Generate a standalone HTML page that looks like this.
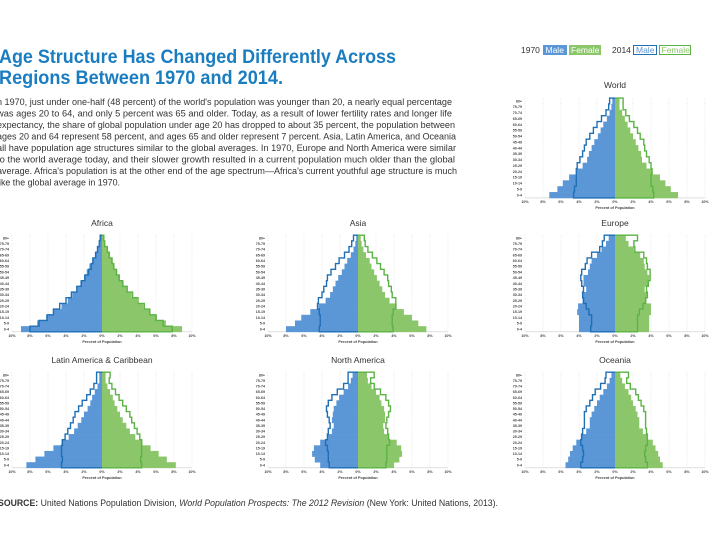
<!DOCTYPE html>
<html><head><meta charset="utf-8"><style>
html,body{margin:0;padding:0;background:#fff;width:720px;height:540px;overflow:hidden}
svg{display:block;font-family:"Liberation Sans",sans-serif}
</style></head><body>
<svg id="s" width="720" height="540" viewBox="0 0 720 540">
<g fill="#1a7dc0" font-weight="bold" font-size="19">
<text x="-1" y="63" textLength="397" lengthAdjust="spacingAndGlyphs">Age Structure Has Changed Differently Across</text>
<text x="-1" y="84" textLength="284" lengthAdjust="spacingAndGlyphs">Regions Between 1970 and 2014.</text>
</g>
<g fill="#333" font-size="9.6">
<text x="-3" y="105" textLength="455" lengthAdjust="spacingAndGlyphs">n 1970, just under one-half (48 percent) of the world's population was younger than 20, a nearly equal percentage</text>
<text x="-3" y="116.5" textLength="455" lengthAdjust="spacingAndGlyphs">was ages 20 to 64, and only 5 percent was 65 and older. Today, as a result of lower fertility rates and longer life</text>
<text x="-3" y="128" textLength="458" lengthAdjust="spacingAndGlyphs">expectancy, the share of global population under age 20 has dropped to about 35 percent, the population between</text>
<text x="-3" y="139.5" textLength="459" lengthAdjust="spacingAndGlyphs">ages 20 and 64 represent 58 percent, and ages 65 and older represent 7 percent. Asia, Latin America, and Oceania</text>
<text x="-3" y="151" textLength="459" lengthAdjust="spacingAndGlyphs">all have population age structures similar to the global averages. In 1970, Europe and North America were similar</text>
<text x="-3" y="162.5" textLength="458" lengthAdjust="spacingAndGlyphs">to the world average today, and their slower growth resulted in a current population much older than the global</text>
<text x="-3" y="174" textLength="460" lengthAdjust="spacingAndGlyphs">average. Africa's population is at the other end of the age spectrum—Africa's current youthful age structure is much</text>
<text x="-3" y="185.5" textLength="123" lengthAdjust="spacingAndGlyphs">like the global average in 1970.</text>
</g>
<g font-size="8.5">
<text x="521" y="53" fill="#333">1970</text>
<rect x="543" y="45" width="24" height="10" fill="#5b97d6"/><text x="545.5" y="53" fill="#fff">Male</text>
<rect x="569" y="45" width="32" height="10" fill="#8cc66a"/><text x="571" y="53" fill="#fff">Female</text>
<text x="612" y="53" fill="#333">2014</text>
<rect x="633.5" y="45.5" width="23" height="9" fill="none" stroke="#1f6fb5"/><text x="636" y="53" fill="#5b97d6">Male</text>
<rect x="659.5" y="45.5" width="31" height="9" fill="none" stroke="#5cb345"/><text x="661.5" y="53" fill="#8cc66a">Female</text>
</g>
<text x="-2" y="506" font-size="9.6" fill="#333" textLength="500" lengthAdjust="spacingAndGlyphs"><tspan font-weight="bold">SOURCE:</tspan> United Nations Population Division, <tspan font-style="italic">World Population Prospects: The 2012 Revision</tspan> (New York: United Nations, 2013).</text>
<g id="charts"></g>
</svg>
<script>
const ageGroups=["0-4","5-9","10-14","15-19","20-24","25-29","30-34","35-39","40-44","45-49","50-54","55-59","60-64","65-69","70-74","75-79","80+"];
const tickLabels=["10%","8%","6%","4%","2%","0%","2%","4%","6%","8%","10%"];
const regions=["World","Africa","Asia","Europe","Latin America & Caribbean","North America","Oceania"];
const male1970={
World:[7.3,6.4,5.8,5.1,4.3,3.6,3.1,2.9,2.6,2.3,1.9,1.6,1.3,0.9,0.6,0.4,0.3],
Africa:[9.0,7.2,6.2,5.4,4.5,3.8,3.3,2.8,2.4,2.0,1.7,1.4,1.1,0.8,0.5,0.3,0.2],
Asia:[8.0,7.0,6.3,5.3,4.4,3.6,3.1,2.8,2.5,2.2,1.8,1.5,1.2,0.8,0.5,0.3,0.2],
Europe:[4.0,4.0,4.0,4.2,4.1,3.6,3.6,3.2,3.5,3.5,3.0,2.8,2.6,2.0,1.5,1.0,0.7],
"Latin America & Caribbean":[8.4,7.4,6.4,5.4,4.5,3.7,3.1,2.7,2.3,2.0,1.6,1.3,1.1,0.8,0.5,0.3,0.3],
"North America":[4.2,4.8,5.1,4.9,4.2,3.4,2.9,2.7,2.9,2.8,2.7,2.4,2.1,1.6,1.1,0.8,0.6],
Oceania:[5.5,5.2,5.0,4.7,4.3,3.8,3.2,2.8,2.8,2.6,2.3,2.0,1.7,1.3,0.9,0.6,0.4]};
const female1970={
World:[7.0,6.2,5.6,5.0,4.2,3.5,3.0,2.9,2.6,2.3,2.0,1.7,1.4,1.1,0.8,0.5,0.5],
Africa:[8.9,7.1,6.1,5.4,4.6,3.9,3.3,2.8,2.4,2.0,1.7,1.4,1.2,0.9,0.6,0.3,0.2],
Asia:[7.6,6.7,6.0,5.1,4.3,3.5,3.0,2.7,2.4,2.1,1.8,1.5,1.3,0.9,0.6,0.4,0.3],
Europe:[3.8,3.8,3.8,4.0,4.0,3.5,3.6,3.3,3.7,3.8,3.6,3.3,3.2,2.8,2.1,1.5,1.2],
"Latin America & Caribbean":[8.2,7.2,6.3,5.4,4.5,3.7,3.1,2.7,2.3,2.0,1.7,1.4,1.2,0.9,0.6,0.4,0.4],
"North America":[4.0,4.6,4.9,4.8,4.3,3.4,2.9,2.8,3.0,3.0,2.9,2.6,2.4,2.0,1.5,1.1,1.0],
Oceania:[5.3,5.0,4.8,4.5,4.2,3.6,3.1,2.7,2.7,2.5,2.3,2.0,1.8,1.5,1.1,0.8,0.6]};
const male2014={
World:[4.6,4.5,4.3,4.3,4.3,4.2,3.9,3.6,3.4,3.2,2.8,2.4,2.0,1.5,1.0,0.7,0.6],
Africa:[8.0,7.0,6.1,5.4,4.7,4.0,3.4,2.8,2.3,1.9,1.5,1.2,1.0,0.7,0.5,0.3,0.2],
Asia:[4.3,4.2,4.2,4.3,4.5,4.4,4.0,3.8,3.5,3.4,3.0,2.5,2.1,1.5,1.0,0.7,0.5],
Europe:[2.7,2.6,2.6,2.9,3.2,3.5,3.6,3.5,3.7,3.8,3.7,3.3,3.1,2.6,1.7,1.4,1.2],
"Latin America & Caribbean":[4.5,4.4,4.5,4.5,4.4,4.1,3.8,3.5,3.2,3.0,2.6,2.2,1.7,1.3,0.9,0.6,0.6],
"North America":[3.2,3.3,3.3,3.4,3.6,3.4,3.3,3.1,3.2,3.4,3.5,3.3,2.9,2.3,1.6,1.1,1.1],
Oceania:[3.8,3.6,3.5,3.6,3.8,3.7,3.6,3.4,3.4,3.4,3.2,2.8,2.5,2.2,1.6,1.1,1.0]};
const female2014={
World:[4.3,4.2,4.0,4.0,4.1,4.0,3.8,3.5,3.3,3.2,2.8,2.5,2.1,1.6,1.2,0.9,0.9],
Africa:[7.8,6.8,6.0,5.3,4.7,4.0,3.4,2.8,2.3,1.9,1.6,1.3,1.1,0.8,0.6,0.3,0.2],
Asia:[3.9,3.8,3.8,3.9,4.2,4.2,3.8,3.7,3.4,3.3,2.9,2.5,2.1,1.6,1.1,0.8,0.7],
Europe:[2.5,2.5,2.5,2.7,3.1,3.4,3.6,3.5,3.7,3.9,3.9,3.6,3.5,3.2,2.2,2.1,2.5],
"Latin America & Caribbean":[4.4,4.3,4.4,4.4,4.4,4.2,3.9,3.6,3.3,3.1,2.7,2.3,1.9,1.5,1.1,0.8,0.9],
"North America":[3.1,3.2,3.2,3.2,3.5,3.4,3.3,3.1,3.2,3.4,3.6,3.4,3.1,2.5,1.8,1.4,1.8],
Oceania:[3.6,3.4,3.3,3.4,3.6,3.6,3.5,3.4,3.4,3.4,3.2,2.9,2.6,2.3,1.7,1.3,1.5]};
const NS="http://www.w3.org/2000/svg";
const root=document.getElementById("charts");
function mk(tag,attrs,parent){const e=document.createElementNS(NS,tag);for(const k in attrs)e.setAttribute(k,attrs[k]);parent.appendChild(e);return e;}
const layout={World:[615,101,195,88],Africa:[102,238,329,226],Asia:[358,238,329,226],Europe:[615,238,329,226],
"Latin America & Caribbean":[102,375,465,363],"North America":[358,375,465,363],Oceania:[615,375,465,363]};
const K=9;
function xM(cx,v){return cx-v*K;}
function xF(cx,v){return cx+v*K;}
function rowY(top,bot,i){return bot-i*(bot-top)/(ageGroups.length-1);}
function outline(cx,top,bot,vals,fx){
  const h=(bot-top)/(ageGroups.length-1);
  let d="M"+cx+","+(bot+h/2);
  vals.forEach((v,i)=>{const y=rowY(top,bot,i);d+=" L"+fx(cx,v)+","+(y+h/2)+" L"+fx(cx,v)+","+(y-h/2);});
  d+=" L"+cx+","+(top-h/2);
  return d;
}
regions.forEach(r=>{
  const [cx,top,bot,ty]=layout[r];
  const g=mk("g",{},root);
  
  
  const h=(bot-top)/(ageGroups.length-1);
  const t=mk("text",{x:cx,y:ty,"text-anchor":"middle","font-size":"8.5",fill:"#333"},g);t.textContent=r;
  
  
  tickLabels.forEach((lab,j)=>{
    const v=(j-5)*2, x=cx+v*K;
    const gl=mk("line",{x1:x,x2:x,y1:top-h/2,y2:bot+h/2,stroke:"#d8d8d8","stroke-width":"0.6","stroke-dasharray":"1,1.5"},g);
    
    
    const tl=mk("text",{x:x,y:bot+h/2+5,"text-anchor":"middle","font-size":"3.6",fill:"#444","font-weight":"bold"},g);tl.textContent=lab;
    
    
  });
  const ax=mk("line",{x1:cx-10*K,x2:cx+10*K,y1:bot+h/2,y2:bot+h/2,stroke:"#ccc","stroke-width":"0.6"},g);
  
  
  const at=mk("text",{x:cx,y:bot+h/2+11,"text-anchor":"middle","font-size":"3.8",fill:"#444","font-weight":"bold"},g);at.textContent="Percent of Population";
  
  
  ageGroups.forEach((a,i)=>{
    const y=rowY(top,bot,i);
    const al=mk("text",{x:cx-10*K-3,y:y+1.3,"text-anchor":"end","font-size":"3.6",fill:"#444","font-weight":"bold"},g);al.textContent=a;
    
    
    const m=male1970[r][i], f=female1970[r][i];
    const rm=mk("rect",{x:xM(cx,m),y:y-h/2,width:cx-xM(cx,m),height:h+0.3,fill:"#5b97d6"},g);
    
    
    const rf=mk("rect",{x:cx,y:y-h/2,width:xF(cx,f)-cx,height:h+0.3,fill:"#8cc66a"},g);
    
    
  });
  const pm=mk("path",{d:outline(cx,top,bot,male2014[r],xM),fill:"none",stroke:"#1f6fb5","stroke-width":"1.4"},g);
  
  
  const pf=mk("path",{d:outline(cx,top,bot,female2014[r],xF),fill:"none",stroke:"#5cb345","stroke-width":"1.4"},g);
  
  
});
</script>
</body></html>
